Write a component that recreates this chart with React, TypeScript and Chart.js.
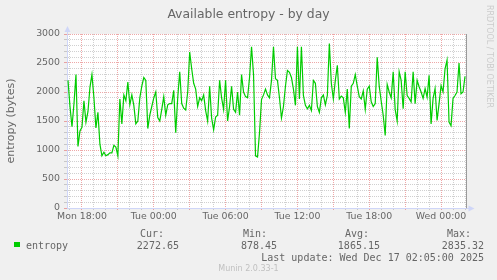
import React, { useEffect, useRef } from 'react';
import { Chart, registerables } from 'chart.js';

Chart.register(...registerables);

// Time axis in hours counted from Monday 00:00
const X_MIN = 16.75; // Mon 16:45
const X_MAX = 50 + 5 / 60; // Wed 02:05
const START_HOUR = 16 + 50 / 60; // first sample, Mon 16:50
const STEP_HOURS = 10 / 60; // one sample every 10 minutes

// Available entropy (bytes), in 10-minute steps
const entropyMonEvening = [
  2200, 1750, 1400, 1800, 2300, 1060, 1330, 1390, 1850, 1480, 1660, 2080, 2300, 1900, 1380, 1650,
  1100, 900, 960, 900, 920, 950, 950, 1080, 1050, 900, 1880, 1450, 1950, 1850, 2170, 1780,
];
const entropyTueNight = [
  1950, 1770, 1450, 1500, 1900, 2100, 2250, 2200, 1370, 1600, 1750, 1900, 2000, 1560, 1500, 1700,
  1920, 1600, 1780, 1800, 1800, 2030, 1300, 1900, 2350, 1800, 1720, 1690, 2000, 2690, 2400, 2150,
  2050, 1750, 1900,
];
const entropyTueMorning = [
  1850, 1950, 1680, 1500, 2100, 1550, 1350, 1570, 1600, 2200, 1900, 1700, 2200, 1500, 1750, 2100,
  1700, 1650, 2000, 1600, 2300, 2000, 1920, 1900, 2250, 2780, 2300, 900, 880, 1300, 1870, 1950,
  2050, 1950,
];
const entropyTueMidday = [
  1900, 2200, 2780, 2230, 2200, 1900, 1550, 1750, 2100, 2370, 2340, 2250, 2050, 1770, 2780, 1880,
  2780, 1940, 1770, 1710, 1770, 1680, 2200, 2150, 1750, 1650, 1900, 1950, 1780, 1940, 2835, 2150,
  1880,
];
const entropyTueEvening = [
  2200, 2460, 1880, 1930, 1900, 1650, 2050, 1370, 2100, 2150, 2300, 2100, 1920, 1880, 2020, 1700,
  2050, 2100, 1830, 1750, 1800, 2600, 2100, 1840, 1600, 1250, 2130, 2000, 1900, 2350, 1700, 1500,
  2350, 2200,
];
const entropyWedEarly = [
  1710, 2350, 1940, 1890, 1830, 2350, 1800, 2200, 2090, 2000, 1890, 2060, 1910, 2290, 1450, 1890,
  2060, 1510, 1800, 2110, 2000, 2400, 2550, 1480, 1420, 1890, 1940, 2000, 2500, 1970, 2000, 2270,
];

const entropy = [
  ...entropyMonEvening,
  ...entropyTueNight,
  ...entropyTueMorning,
  ...entropyTueMidday,
  ...entropyTueEvening,
  ...entropyWedEarly,
];

const xTickHours = [18, 24, 30, 36, 42, 48];
const xTickLabels = ['Mon 18:00', 'Tue 00:00', 'Tue 06:00', 'Tue 12:00', 'Tue 18:00', 'Wed 00:00'];
const Y_MAX = 3000;
const Y_MINOR = 100;
const Y_MAJOR = 500;

const statLabels = ['Cur:', 'Min:', 'Avg:', 'Max:'];
const statValues = ['2272.65', '878.45', '1865.15', '2835.32'];
const statLabelRight = [164, 267, 369, 471];
const statValueRight = [179, 277, 380, 484];

const MAJOR_GRID = 'rgba(222,81,81,0.5)';
const MINOR_GRID = 'rgba(143,143,143,0.42)';
const AXIS = '#CFD6F8';
const FONT_COLOR = '#666666';

const framePlugin = {
  id: 'muninFrame',
  beforeDraw(chart: any) {
    const { ctx, chartArea } = chart;
    ctx.save();
    ctx.fillStyle = '#FFFFFF';
    ctx.fillRect(chartArea.left, chartArea.top, chartArea.right - chartArea.left, chartArea.bottom - chartArea.top);
    ctx.restore();
  },
  afterDraw(chart: any) {
    const { ctx, chartArea } = chart;
    const l = Math.round(chartArea.left) + 0.5;
    const b = Math.round(chartArea.bottom) + 0.5;
    const r = Math.round(chartArea.right) + 0.5;
    const t = Math.round(chartArea.top);
    ctx.save();
    // right rule
    ctx.strokeStyle = '#9a9a9a';
    ctx.lineWidth = 1;
    ctx.beginPath();
    ctx.moveTo(r, t);
    ctx.lineTo(r, b);
    ctx.stroke();
    // axis extensions + arrows
    ctx.strokeStyle = AXIS;
    ctx.fillStyle = AXIS;
    ctx.beginPath();
    ctx.moveTo(l, t);
    ctx.lineTo(l, t - 4);
    ctx.moveTo(r, b);
    ctx.lineTo(r + 4, b);
    ctx.stroke();
    ctx.beginPath();
    ctx.moveTo(l, t - 8);
    ctx.lineTo(l - 3, t - 2);
    ctx.lineTo(l + 3, t - 2);
    ctx.closePath();
    ctx.fill();
    ctx.beginPath();
    ctx.moveTo(r + 8, b);
    ctx.lineTo(r + 2, b - 3);
    ctx.lineTo(r + 2, b + 3);
    ctx.closePath();
    ctx.fill();
    ctx.restore();
  },
};

export default function App() {
  const canvasRef = useRef<HTMLCanvasElement | null>(null);

  useEffect(() => {
    const canvas = canvasRef.current;
    if (!canvas) return;
    const points = entropy.map((v, i) => ({ x: START_HOUR + i * STEP_HOURS, y: v }));
    const xGridHours: number[] = [];
    for (let h = Math.ceil(X_MIN); h <= Math.floor(X_MAX); h++) xGridHours.push(h);
    const yGrid: number[] = [];
    for (let v = 0; v <= Y_MAX; v += Y_MINOR) yGrid.push(v);

    const chart = new Chart(canvas, {
      type: 'line',
      data: {
        datasets: [
          {
            label: 'entropy',
            data: points,
            borderColor: '#00CC00',
            borderWidth: 1.2,
            pointRadius: 0,
            tension: 0,
            fill: false,
          },
        ],
      },
      options: {
        animation: false,
        responsive: false,
        devicePixelRatio: 1,
        parsing: false as any,
        normalized: true,
        font: { family: 'DejaVu Sans' } as any,
        layout: { padding: { top: 34, right: 31, bottom: 0, left: 0 } },
        plugins: {
          legend: { display: false },
          tooltip: { enabled: false },
          title: { display: false },
        },
        scales: {
          x: {
            type: 'linear',
            min: X_MIN,
            max: X_MAX,
            afterBuildTicks: (s: any) => {
              s.ticks = xGridHours.map((v) => ({ value: v }));
            },
            afterFit: (s: any) => {
              s.height = 72;
            },
            ticks: {
              autoSkip: false,
              maxRotation: 0,
              minRotation: 0,
              padding: 1,
              color: FONT_COLOR,
              font: { family: 'DejaVu Sans', size: 9.4 },
              callback: (v: any) => {
                const i = xTickHours.indexOf(Number(v));
                return i >= 0 ? xTickLabels[i] : '';
              },
            },
            grid: {
              color: (c: any) => (c.tick && c.tick.value % 3 === 0 ? MAJOR_GRID : MINOR_GRID),
              lineWidth: 1,
              drawTicks: true,
              tickLength: 2,
            },
            border: { color: AXIS, width: 1, dash: [1, 1] },
          },
          y: {
            type: 'linear',
            min: 0,
            max: Y_MAX,
            afterBuildTicks: (s: any) => {
              s.ticks = yGrid.map((v) => ({ value: v }));
            },
            afterFit: (s: any) => {
              s.width = 67;
            },
            ticks: {
              autoSkip: false,
              padding: 4,
              color: FONT_COLOR,
              font: { family: 'DejaVu Sans', size: 9.4 },
              callback: (v: any) => (Number(v) % Y_MAJOR === 0 ? String(v) : ''),
            },
            grid: {
              color: (c: any) => (c.tick && c.tick.value % Y_MAJOR === 0 ? MAJOR_GRID : MINOR_GRID),
              lineWidth: 1,
              drawTicks: true,
              tickLength: 3,
            },
            border: { color: AXIS, width: 1, dash: [1, 1] },
            title: {
              display: true,
              text: 'entropy (bytes)',
              color: FONT_COLOR,
              font: { family: 'DejaVu Sans', size: 11 },
              padding: { top: 4.5, bottom: 0 },
            },
          },
        },
      },
      plugins: [framePlugin],
    } as any);
    return () => chart.destroy();
  }, []);

  const mono: React.CSSProperties = {
    position: 'absolute',
    fontFamily: '"DejaVu Sans Mono", monospace',
    fontSize: 10,
    lineHeight: '12px',
    color: FONT_COLOR,
    whiteSpace: 'pre',
  };

  return (
    <div
      style={{
        position: 'fixed',
        left: 0,
        top: 0,
        width: 497,
        height: 280,
        background: '#F0F0F0',
        overflow: 'hidden',
        fontFamily: '"DejaVu Sans", sans-serif',
      }}
    >
      <canvas
        ref={canvasRef}
        width={497}
        height={280}
        style={{ position: 'absolute', left: 0, top: 0, width: 497, height: 280 }}
      />
      <div
        style={{
          position: 'absolute',
          left: 0,
          top: 6,
          width: 497,
          textAlign: 'center',
          fontSize: 12.4,
          lineHeight: '15px',
          color: FONT_COLOR,
        }}
      >
        Available entropy - by day
      </div>
      <div
        style={{
          position: 'absolute',
          left: 484,
          top: 5,
          writingMode: 'vertical-rl',
          fontSize: 8,
          lineHeight: '10px',
          color: '#cccccc',
          whiteSpace: 'nowrap',
        }}
      >
        RRDTOOL / TOBI OETIKER
      </div>
      <div style={{ position: 'absolute', left: 14, top: 241.5, width: 5.5, height: 5.5, background: '#00CC00' }} />
      <div style={{ ...mono, left: 26, top: 239.5 }}>entropy</div>
      {statLabels.map((s, i) => (
        <div key={'l' + i} style={{ ...mono, right: 497 - statLabelRight[i], top: 227.5, textAlign: 'right' }}>
          {s}
        </div>
      ))}
      {statValues.map((s, i) => (
        <div key={'v' + i} style={{ ...mono, right: 497 - statValueRight[i], top: 239.5, textAlign: 'right' }}>
          {s}
        </div>
      ))}
      <div style={{ ...mono, right: 497 - 484, top: 251.5, textAlign: 'right' }}>
        Last update: Wed Dec 17 02:05:00 2025
      </div>
      <div
        style={{
          position: 'absolute',
          left: 0,
          top: 264,
          width: 497,
          textAlign: 'center',
          fontSize: 8,
          lineHeight: '10px',
          color: '#c0c0c0',
        }}
      >
        Munin 2.0.33-1
      </div>
    </div>
  );
}
